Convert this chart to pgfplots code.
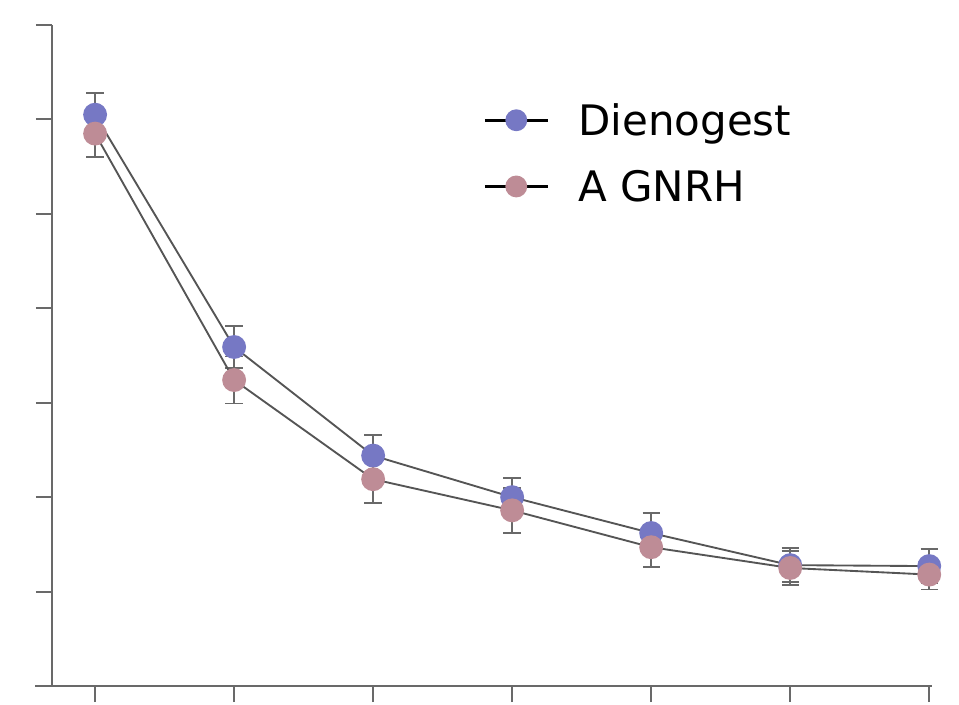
\documentclass[border=0pt]{standalone}
\usepackage{fontspec}
\setmainfont{DejaVu Sans}
\usepackage{pgfplots}
\pgfplotsset{compat=1.18}
\definecolor{dieno}{RGB}{118,120,196}
\definecolor{agnrh}{RGB}{190,140,150}
\definecolor{axgray}{RGB}{105,105,105}
\definecolor{lngray}{RGB}{85,85,85}
\begin{document}
\begin{tikzpicture}
\path[use as bounding box] (0,0) rectangle (719.25pt,528pt);
\begin{axis}[
  at={(39pt,13.5pt)}, anchor=south west,
  scale only axis, width=660pt, height=495.75pt,
  xmin=0.69, xmax=7.02, ymin=0, ymax=7,
  axis lines=left, axis line style={axgray, line width=1.5pt, -},
  xtick={1,...,7}, ytick={1,...,7},
  xticklabels={}, yticklabels={},
  tick align=outside,
  major tick length=12pt,
  tick style={axgray, line width=1.5pt},
  clip=false,
  legend style={draw=none, fill=none, at={(0.49,0.886)}, anchor=north west,
    font=\fontsize{31.5}{37}\selectfont, row sep=20.5pt, inner sep=0pt},
  legend cell align=left,
]
\draw[axgray, line width=1.5pt] (rel axis cs:-0.019,0) -- (rel axis cs:0,0);
\addplot[lngray, line width=1.4pt, mark=*, mark size=8.25pt,
  mark options={fill=dieno, draw=dieno},
  legend image code/.code={\draw[black,line width=2.2pt] (0pt,0pt) -- (47pt,0pt); \fill[dieno] (23.5pt,0pt) circle (7.5pt); \path[draw=none] (0pt,0pt) -- (68pt,0pt);},
  error bars/.cd, y dir=both, y explicit,
  error bar style={axgray, line width=1.2pt},
  error mark options={rotate=90, mark size=6.5pt, axgray, line width=1.2pt}]
  coordinates {
  (1,6.05) +- (0,0.23)
  (2,3.59) +- (0,0.22)
  (3,2.44) +- (0,0.22)
  (4,2.00) +- (0,0.20)
  (5,1.62) +- (0,0.21)
  (6,1.28) +- (0,0.18)
  (7,1.27) +- (0,0.18)
  };
\addlegendentry{Dienogest}
\addplot[lngray, line width=1.4pt, mark=*, mark size=8.25pt,
  mark options={fill=agnrh, draw=agnrh},
  legend image code/.code={\draw[black,line width=2.2pt] (0pt,0pt) -- (47pt,0pt); \fill[agnrh] (23.5pt,0pt) circle (7.5pt); \path[draw=none] (0pt,0pt) -- (68pt,0pt);},
  error bars/.cd, y dir=both, y explicit,
  error bar style={axgray, line width=1.2pt},
  error mark options={rotate=90, mark size=6.5pt, axgray, line width=1.2pt}]
  coordinates {
  (1,5.85) +- (0,0.25)
  (2,3.24) +- (0,0.25)
  (3,2.19) +- (0,0.25)
  (4,1.86) +- (0,0.24)
  (5,1.47) +- (0,0.21)
  (6,1.25) +- (0,0.18)
  (7,1.18) +- (0,0.16)
  };
\addlegendentry{A GNRH}
\end{axis}
\end{tikzpicture}
\end{document}
